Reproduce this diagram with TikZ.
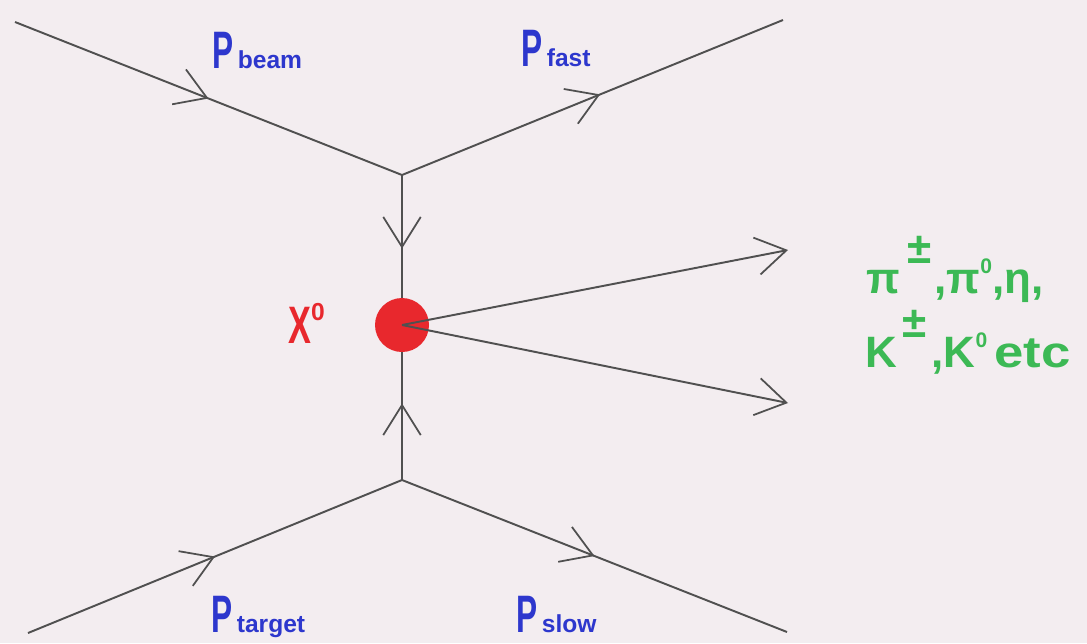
\documentclass[tikz,border=0pt]{standalone}
\usepackage{fontspec}
\setmainfont{Liberation Sans}
\usetikzlibrary{arrows.meta,decorations.markings}

\definecolor{bgpink}{RGB}{243,237,240}
\definecolor{linegray}{RGB}{80,80,80}
\definecolor{momblue}{RGB}{45,55,205}
\definecolor{vertred}{RGB}{232,40,45}
\definecolor{mesgreen}{RGB}{60,185,85}

\tikzset{
  barb/.tip={Straight Barb[length=0.6cm,width=0.75cm,line width=1pt]},
  leg/.style={draw=linegray,line width=1.1pt},
  midarrow/.style={postaction={decorate},
    decoration={markings,mark=at position #1 with {\arrow{barb}}}},
  midarrow/.default=0.5,
  momlabel/.style={momblue,anchor=base west,inner sep=0pt},
  meslabel/.style={mesgreen,anchor=base west,inner sep=0pt,font=\fontsize{25}{25}\selectfont\bfseries},
}
\newcommand{\mom}[1]{\scalebox{0.6}[1]{\fontsize{30}{30}\selectfont\bfseries P}\hspace{2.5pt}{\fontsize{14}{14}\selectfont\bfseries #1}}
\newcommand{\supo}{\raisebox{11pt}{\fontsize{12}{12}\selectfont 0}}

\begin{document}
\begin{tikzpicture}[x=0.02cm,y=-0.02cm]

% Background and frame
\fill[bgpink] (0,0) rectangle (1087,643);
\useasboundingbox (0,0) rectangle (1087,643);

% Vertices and free ends
\coordinate (beamin) at (15,22);
\coordinate (fastout) at (783,20);
\coordinate (top) at (402,175);
\coordinate (bot) at (402,480);
\coordinate (targetin) at (28,633);
\coordinate (slowout) at (787,632);
\coordinate (outup) at (788,250);
\coordinate (outdown) at (788,403);
\node[circle,fill=vertred,minimum size=1.08cm,inner sep=0pt] (xo) at (402,325) {};

% Incoming and outgoing legs
\draw[leg,midarrow] (beamin) -- (top);
\draw[leg,midarrow=0.52] (top) -- (fastout);
\draw[leg,midarrow] (targetin) -- (bot);
\draw[leg,midarrow] (bot) -- (slowout);
\draw[leg,midarrow=0.6] (top) -- (xo);
\draw[leg,midarrow=0.6] (bot) -- (xo);
\draw[leg,-{barb}] (xo.center) -- (outup);
\draw[leg,-{barb}] (xo.center) -- (outdown);

% Labels
\node[momlabel] (pbeam) at (212,68) {\mom{beam}};
\node[momlabel] (pfast) at (521,66) {\mom{fast}};
\node[momlabel] (ptarget) at (211,632) {\mom{target}};
\node[momlabel] (pslow) at (516,632) {\mom{slow}};
\node[vertred,anchor=base west,inner sep=0pt] (xlabel) at (288,343)
  {\scalebox{0.65}[1]{\fontsize{30}{30}\selectfont\bfseries X}\raisebox{13pt}{\fontsize{14}{14}\selectfont\bfseries 0}};
\node[meslabel] (mes1) at (866,293)
  {π\hspace{4pt}\raisebox{17pt}{±}\hspace{2pt},π\supo,η,};
\node[meslabel] (mes2) at (865,367)
  {K\hspace{3pt}\raisebox{17pt}{±}\hspace{3pt},K\supo\hspace{4pt}\scalebox{1.2}[1]{etc}};
\end{tikzpicture}
\end{document}
